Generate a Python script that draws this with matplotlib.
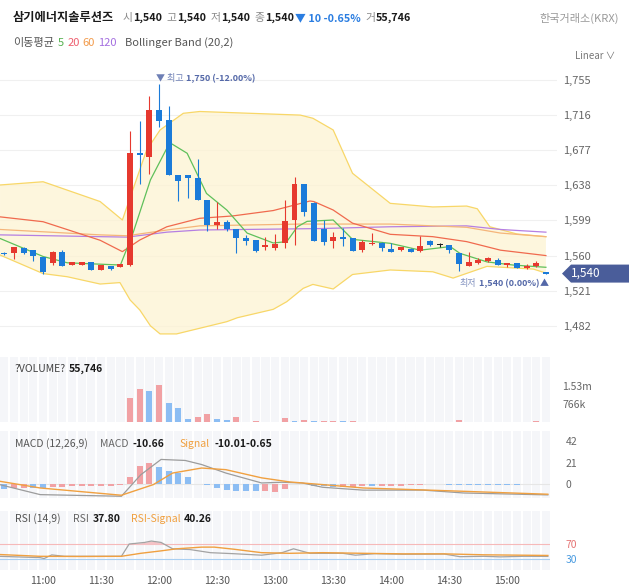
import matplotlib
matplotlib.use('Agg')
import matplotlib.pyplot as plt
import matplotlib.transforms as mtransforms
from matplotlib.patches import Rectangle, Polygon
import numpy as np

plt.rcParams['font.family'] = ['Noto Sans CJK KR', 'DejaVu Sans']

# ── Data (5-minute candles, 10:40 .. 15:20) ───────────────────────────────────
opens  = [1563, 1562.6, 1568.5, 1566, 1558, 1551.5, 1564.5, 1549, 1549.5, 1552.5,
          1544, 1548.5, 1547.5, 1550, 1674, 1669, 1722, 1711, 1650, 1649,
          1646.5, 1622, 1594, 1597, 1589, 1579, 1577, 1569, 1568, 1573.6,
          1599.5, 1639, 1618, 1589, 1576.5, 1581, 1579, 1566, 1572.6, 1574.4,
          1567.3, 1566.2, 1567.3, 1564.6, 1576.5, 1571.8, 1571.8, 1562.5, 1548.4, 1551.4,
          1554, 1555, 1549, 1552, 1546, 1548.4, 1541]
highs  = [1564, 1569, 1569, 1566, 1558, 1565, 1566, 1553, 1553, 1553,
          1549, 1548.5, 1551, 1698, 1710, 1737, 1750, 1726, 1650, 1649,
          1667, 1622, 1620, 1599, 1589, 1583, 1577, 1581, 1584, 1622,
          1647, 1639, 1620, 1599.5, 1586, 1591, 1579, 1577, 1585, 1575,
          1574, 1569.5, 1568, 1582, 1577, 1574, 1572, 1563, 1564.4, 1557,
          1558.5, 1557, 1552, 1552, 1551, 1554, 1541]
lows   = [1561, 1556, 1562, 1554, 1540, 1549, 1548, 1549, 1549, 1544,
          1544, 1543.5, 1547, 1548, 1640, 1651, 1703, 1650, 1621, 1624,
          1622, 1587, 1590, 1587, 1562.5, 1572, 1564, 1566, 1566, 1568,
          1572, 1604, 1576.5, 1572, 1568, 1571, 1565, 1564, 1572, 1565,
          1564.4, 1565.5, 1563.7, 1564, 1571, 1569, 1563, 1543, 1548, 1551,
          1553, 1549.5, 1547, 1546, 1545, 1547, 1540]
closes = [1562, 1569, 1562.5, 1560, 1542, 1564.5, 1548, 1552.5, 1552.5, 1544,
          1549, 1545.5, 1550.5, 1674, 1672, 1722, 1710, 1650, 1643, 1646.5,
          1622, 1594, 1597, 1589, 1579, 1576.5, 1565, 1572, 1573, 1598.4,
          1640, 1608, 1576.5, 1575, 1581, 1578, 1565, 1575.5, 1574.4, 1568,
          1564.4, 1569.2, 1563.7, 1570.6, 1571.8, 1571.8, 1566.2, 1550.3, 1552.5, 1555,
          1557.7, 1549.5, 1552, 1546, 1548.4, 1551.4, 1540]

volume_k = [20, 15, 4, 20, 20, 4, 4, 4, 4, 4,
            4, 4, 4, 1022, 1405, 1304, 1560, 809, 579, 141,
            213, 354, 141, 98, 213, 30, 40, 30, 30, 183,
            68, 98, 68, 60, 60, 40, 60, 30, 3, 3,
            3, 20, 20, 3, 3, 3, 25, 90, 30, 3,
            3, 25, 25, 25, 25, 35, 25]
volume_up = [0, 0, 0, 1, 1, 1, 0, 1, 1, 0,
             1, 0, 1, 1, 1, 0, 1, 0, 0, 0,
             1, 1, 0, 0, 1, 0, 1, 0, 0, 1,
             0, 1, 0, 1, 1, 0, 1, 0, 0, 1,
             1, 1, 1, 1, 0, 0, 1, 1, 0, 1,
             1, 1, 0, 1, 1, 1, 0]

# moving averages / bollinger band, vertices (x = candle index)
bb_up_x = [-0.45, 4.0, 9.9, 12.2, 14.7, 16.1, 18.5, 20.2, 30.6, 31.9, 34.0, 36.0, 39.9, 44.3, 47.8, 48.9, 50.2, 53.0, 56.0]
bb_up_y = [1638.4, 1642, 1620, 1599.5, 1677, 1699.5, 1718, 1720, 1716, 1712.5, 1699.5, 1651.4, 1618, 1614, 1615, 1612, 1592, 1584, 1581]
bb_lo_x = [-0.45, 4.0, 6.5, 9.9, 11.95, 13.0, 14.0, 15.1, 16.1, 17.8, 19.9, 23.0, 24.1, 27.8, 29.2, 30.9, 31.9, 34.0, 36.0, 39.9, 44.3, 46.4, 49.9, 54.7, 56.0]
bb_lo_y = [1560.6, 1540, 1536.5, 1528.4, 1530, 1510.7, 1499.6, 1482, 1473, 1473, 1478.5, 1486.6, 1491, 1500.3, 1508.8, 1523.6, 1528, 1522.9, 1539, 1544, 1542, 1535, 1548, 1545, 1540.6]
ma5_x = [-0.45, 4.0, 6.5, 12.0, 13.3, 15.1, 17.1, 18.9, 20.9, 23.0, 25.1, 27.8, 29.2, 30.3, 31.3, 34.0, 36.0, 39.9, 43.0, 46.1, 47.1, 49.9, 52.6, 56.0]
ma5_y = [1579, 1559, 1552, 1549.5, 1585, 1644, 1685.4, 1673.6, 1629, 1610.6, 1585, 1574, 1575.5, 1592, 1598, 1599.5, 1578, 1573.6, 1566, 1570, 1562.5, 1553, 1549.5, 1547]
ma20_x = [-0.45, 4.0, 9.9, 12.2, 14.0, 16.8, 20.2, 23.6, 27.8, 31.6, 32.0, 34.0, 36.0, 39.9, 44.3, 47.8, 51.3, 56.0]
ma20_y = [1603, 1597.6, 1577, 1564.4, 1577.3, 1592, 1601.4, 1604, 1610, 1620.6, 1620, 1610.6, 1596, 1583.6, 1581, 1575.5, 1566, 1560]
ma60_x = [-0.45, 9.9, 12.7, 16.8, 20.2, 30.6, 39.9, 47.8, 51.3, 56.0]
ma60_y = [1589, 1583, 1582, 1588.4, 1593, 1595, 1595, 1591.4, 1585, 1581]
ma120_x = [-0.45, 9.9, 12.7, 16.8, 20.2, 32.6, 39.9, 47.8, 51.3, 56.0]
ma120_y = [1583, 1581, 1580.5, 1586, 1588.4, 1590, 1592, 1593, 1589, 1586]

macd_hist = [-5, -4, -4, -4, -4, -3, -3, -2, -2, -2,
             -2, -1.5, -1, 7, 18, 21, 17, 13, 11, 6.5,
             -0.5, -1, -4, -6, -6.5, -7, -7, -7, -8, -4.5,
             -0.5, -0.5, -1.5, -2, -3, -3, -2.5, -2, -2, -2,
             -1.5, -1.5, -1, -1, -0.5, -0.5, -1, -1, -1, -1,
             -1, -1, -1, -1, -0.5, -0.3, -0.3]
macd_hist_up = [0, 1, 1, 0, 0, 1, 1, 1, 1, 1,
                1, 1, 1, 1, 1, 1, 0, 0, 0, 0,
                0, 0, 0, 0, 0, 0, 0, 1, 1, 1,
                0, 0, 0, 0, 0, 1, 1, 1, 0, 1,
                1, 1, 1, 1, 1, 0, 0, 0, 0, 0,
                0, 0, 0, 0, 0, 0, 0]
macd_x = [-0.45, 3.7, 12.1, 14.1, 16.2, 18.7, 20.4, 22.9, 26.6, 28.7, 30.8, 32.9, 37.1, 43.3, 47.5, 56.2]
macd_y = [-0.7, -10.4, -12, 9, 24, 23, 19, 10.7, 1, 1.7, 1, -3.2, -6, -6, -8.8, -10.66]
signal_x = [-0.45, 3.7, 12.1, 15.4, 17.4, 20.4, 22.9, 26.6, 29.5, 32.9, 37.1, 45.5, 56.2]
signal_y = [2.6, -3.9, -11, -0.6, 10.7, 15.6, 14, 6, 2, -0.6, -3.9, -6.5, -10.01]

rsi_x = [-0.45, 3.7, 4.1, 4.9, 6.2, 12.1, 12.9, 14.5, 15.2, 16.2, 17.4, 19.2, 21.3, 23.7, 26.6, 28.7, 29.9, 31.6, 35.0, 36.3, 38.3, 41.2, 45.5, 47.1, 49.6, 51.3, 53.7, 56.2]
rsi_y = [37.9, 34.5, 32, 41.7, 38, 38, 70.8, 75, 78.7, 75, 58, 56, 47.7, 45, 41, 47.7, 58, 46, 46, 41, 45, 43.5, 44, 37, 38, 36.5, 38, 37.8]
rsig_x = [-0.45, 3.7, 7.9, 12.1, 14.1, 16.2, 17.8, 20.4, 21.7, 23.7, 26.6, 29.5, 32.9, 37.1, 41.2, 45.5, 49.6, 56.2]
rsig_y = [42.7, 38, 37.5, 38, 46, 52.5, 58, 62.5, 62.5, 57, 47.7, 46, 47.7, 46, 44.5, 44.5, 42, 40.26]

price_ticks = [1482, 1521, 1560, 1599, 1638, 1677, 1716, 1755]
time_ticks = [4, 10, 16, 22, 28, 34, 40, 46, 52]
time_labels = ['11:00', '11:30', '12:00', '12:30', '13:00', '13:30', '14:00', '14:30', '15:00']

RED, BLUE = '#e6392f', '#1b7bd9'
RED_L, BLUE_L = '#f1a1a4', '#8cbdf3'
ORANGE = '#f0a040'

# ── Layout helpers (pixel based) ─────────────────────────────────────────────
W, H = 629, 588
X0, DX = 4.4, 9.67   # px of first candle, px per candle


def make_ax(top, bottom, right=550):
    ax = fig.add_axes([0, 1 - bottom / H, right / W, (bottom - top) / H])
    ax.set_xlim(-X0 / DX, (right - X0) / DX)
    for s in ax.spines.values():
        s.set_visible(False)
    ax.set_xticks([])
    ax.tick_params(axis='y', length=0, labelleft=False, labelright=True,
                   labelsize=7.5, labelcolor='#666')
    return ax


def stripes(ax, lo, hi):
    idx = np.arange(len(closes))
    ax.bar(idx, hi - lo, bottom=lo, width=0.84, color='#f5f6f9', zorder=0)


def text_run(x, y, pieces, size=8):
    for p in pieces:
        s, color, weight, gap = p[:4]
        fs = p[4] if len(p) > 4 else size
        t = fig.text(x / W, y / H, s, color=color, fontsize=fs,
                     fontweight=weight, ha='left', va='center')
        x = t.get_window_extent(renderer).x1 + gap
    return x


def text_run_right(x, y, pieces, size=7):
    for s, color, weight, gap in reversed(pieces):
        t = fig.text(x / W, y / H, s, color=color, fontsize=size,
                     fontweight=weight, ha='right', va='center')
        x = t.get_window_extent(renderer).x0 - gap
    return x


fig = plt.figure(figsize=(W / 100, H / 100), dpi=100)
renderer = fig.canvas.get_renderer()
idx = np.arange(len(closes))

# ── Price panel ──────────────────────────────────────────────────────────────
ax = make_ax(68, 345, right=557)
ax.set_ylim(1460.7, 1768.3)
ax.set_yticks(price_ticks)
ax.set_yticklabels([f'{v:,}' for v in price_ticks])
ax.tick_params(axis='y', pad=4.5, labelsize=8)
ax.grid(axis='y', color='#f0f0f0', lw=0.8)
ax.set_axisbelow(True)

band = list(zip(bb_up_x, bb_up_y)) + list(zip(bb_lo_x, bb_lo_y))[::-1]
ax.add_patch(Polygon(band, closed=True, facecolor='#fdf3d2', alpha=0.75, lw=0, zorder=1))
ax.plot(bb_up_x, bb_up_y, color='#f8d768', lw=0.9, zorder=2)
ax.plot(bb_lo_x, bb_lo_y, color='#f8d768', lw=0.9, zorder=2)
ax.plot(ma120_x, ma120_y, color='#b57fe2', lw=0.9, zorder=3)
ax.plot(ma60_x, ma60_y, color='#f5b57a', lw=0.9, zorder=3)
ax.plot(ma20_x, ma20_y, color='#f06a4e', lw=0.9, zorder=3)
ax.plot(ma5_x, ma5_y, color='#5fc05a', lw=0.9, zorder=3)

for i, (o, h, l, c) in enumerate(zip(opens, highs, lows, closes)):
    col = RED if c > o else BLUE if c < o else '#222222'
    ax.vlines(i, l, h, color=col, lw=0.8, zorder=4)
    ax.add_patch(Rectangle((i - 0.31, min(o, c)), 0.62, max(abs(c - o), 1.3),
                           facecolor=col, lw=0, zorder=5))

# last price tag
tr = mtransforms.blended_transform_factory(fig.transFigure, ax.transData)
last = closes[-1]
tag = [(562 / W, last), (571 / W, last + 10), (629 / W, last + 10),
       (629 / W, last - 10), (571 / W, last - 10)]
ax.add_patch(Polygon(tag, closed=True, transform=tr, facecolor='#4a5d9a',
                     lw=0, clip_on=False, zorder=6))
ax.text(586 / W, last, f'{last:,}', transform=tr, color='white', fontsize=8.5,
        ha='center', va='center', zorder=7)

# high / low markers
hi_i = int(np.argmax(highs))
px, py = ax.transData.transform((hi_i, highs[hi_i]))
text_run(px - 3, py + 6, [('▼ 최고', '#6d7fb5', 'normal', 2),
                          (f'{highs[hi_i]:,} (-12.00%)', '#5468a8', 'bold', 0)], size=6.5)
lo_i = len(lows) - 1
px, py = ax.transData.transform((lo_i, lows[lo_i]))
text_run_right(px + 3, py - 10, [('최저', '#8090bf', 'normal', 2),
                                 (f'{lows[lo_i]:,} (0.00%)', '#5468a8', 'bold', 3),
                                 ('▲', '#5468a8', 'normal', 0)], size=6.5)

# ── Volume panel ─────────────────────────────────────────────────────────────
axv = make_ax(357, 422.3)
axv.set_ylim(0, 2736)
stripes(axv, 0, 2736)
axv.bar(idx, volume_k, width=0.62,
        color=[RED_L if u else BLUE_L for u in volume_up], zorder=2)
axv.set_yticks([766, 1532])
axv.set_yticklabels(['766k', '1.53m'])
axv.tick_params(axis='y', pad=9)

# ── MACD panel ───────────────────────────────────────────────────────────────
axm = make_ax(431, 498)
axm.set_ylim(-13.7, 51.8)
stripes(axm, -13.7, 51.8)
axm.axhline(0, color='#e6e6e6', lw=0.8, zorder=1)
axm.bar(idx, macd_hist, width=0.62,
        color=[RED_L if u else BLUE_L for u in macd_hist_up], zorder=2)
axm.plot(macd_x, macd_y, color='#9c9c9c', lw=0.9, zorder=3)
axm.plot(signal_x, signal_y, color=ORANGE, lw=1.0, zorder=3)
axm.set_yticks([0, 21, 42])
axm.tick_params(axis='y', pad=11.5)

# ── RSI panel ────────────────────────────────────────────────────────────────
axr = make_ax(511, 570)
axr.set_ylim(1.5, 158.8)
stripes(axr, 1.5, 158.8)
axr.axhline(70, color='#f6b9b9', lw=0.8, zorder=1)
axr.axhline(30, color='#a9cff2', lw=0.8, zorder=1)
rx, ry = np.array(rsi_x), np.array(rsi_y)
axr.fill_between(rx, ry, 70, where=ry > 70, interpolate=True,
                 color='#f5c2c6', lw=0, zorder=2)
axr.plot(rsi_x, rsi_y, color='#a3a3a3', lw=0.9, zorder=3)
axr.plot(rsig_x, rsig_y, color=ORANGE, lw=1.0, zorder=3)
axr.set_yticks([30, 70])
axr.tick_params(axis='y', pad=11.5)
for lab, c in zip(axr.get_yticklabels(), ['#4a9be0', '#e57373']):
    lab.set_color(c)
axr.set_xticks(time_ticks)
axr.set_xticklabels(time_labels)
axr.tick_params(axis='x', length=0, pad=4, labelsize=7.5, labelcolor='#555')

# ── Header and panel captions ────────────────────────────────────────────────
GRAY, DARK = '#8a8a8a', '#1a1a1a'
text_run(13, H - 18, [('삼기에너지솔루션즈', DARK, 'bold', 8, 8.8),
                      ('시', GRAY, 'normal', 1), ('1,540', DARK, 'bold', 4),
                      ('고', GRAY, 'normal', 1), ('1,540', DARK, 'bold', 4),
                      ('저', GRAY, 'normal', 1), ('1,540', DARK, 'bold', 4),
                      ('종', GRAY, 'normal', 1), ('1,540', DARK, 'bold', 1),
                      ('▼ 10 -0.65%', '#2a7de1', 'bold', 4),
                      ('거', GRAY, 'normal', 1), ('55,746', DARK, 'bold', 0)], size=7.8)
fig.text(619 / W, 1 - 18 / H, '한국거래소(KRX)', color='#9a9a9a', fontsize=8,
         ha='right', va='center')
text_run(13, H - 43, [('이동평균', '#555555', 'normal', 4),
                      ('5', '#55b04f', 'normal', 3), ('20', '#ee5e6e', 'normal', 3),
                      ('60', '#f29a4a', 'normal', 3), ('120', '#a46fe0', 'normal', 9),
                      ('Bollinger Band (20,2)', '#555555', 'normal', 0)])
fig.text(615 / W, 1 - 56 / H, 'Linear ∨', color='#777777', fontsize=7,
         ha='right', va='center')

text_run(15, H - 369, [('?VOLUME?', '#444444', 'normal', 3),
                       ('55,746', DARK, 'bold', 0)], size=7.5)
text_run(15, H - 444, [('MACD (12,26,9)', '#555555', 'normal', 12),
                       ('MACD', '#666666', 'normal', 4), ('-10.66', DARK, 'bold', 15),
                       ('Signal', ORANGE, 'normal', 5), ('-10.01-0.65', DARK, 'bold', 0)], size=7.5)
text_run(15, H - 519, [('RSI (14,9)', '#555555', 'normal', 12),
                       ('RSI', '#666666', 'normal', 4), ('37.80', DARK, 'bold', 10),
                       ('RSI-Signal', ORANGE, 'normal', 4), ('40.26', DARK, 'bold', 0)], size=7.5)

fig.savefig('out.png', dpi=100)
